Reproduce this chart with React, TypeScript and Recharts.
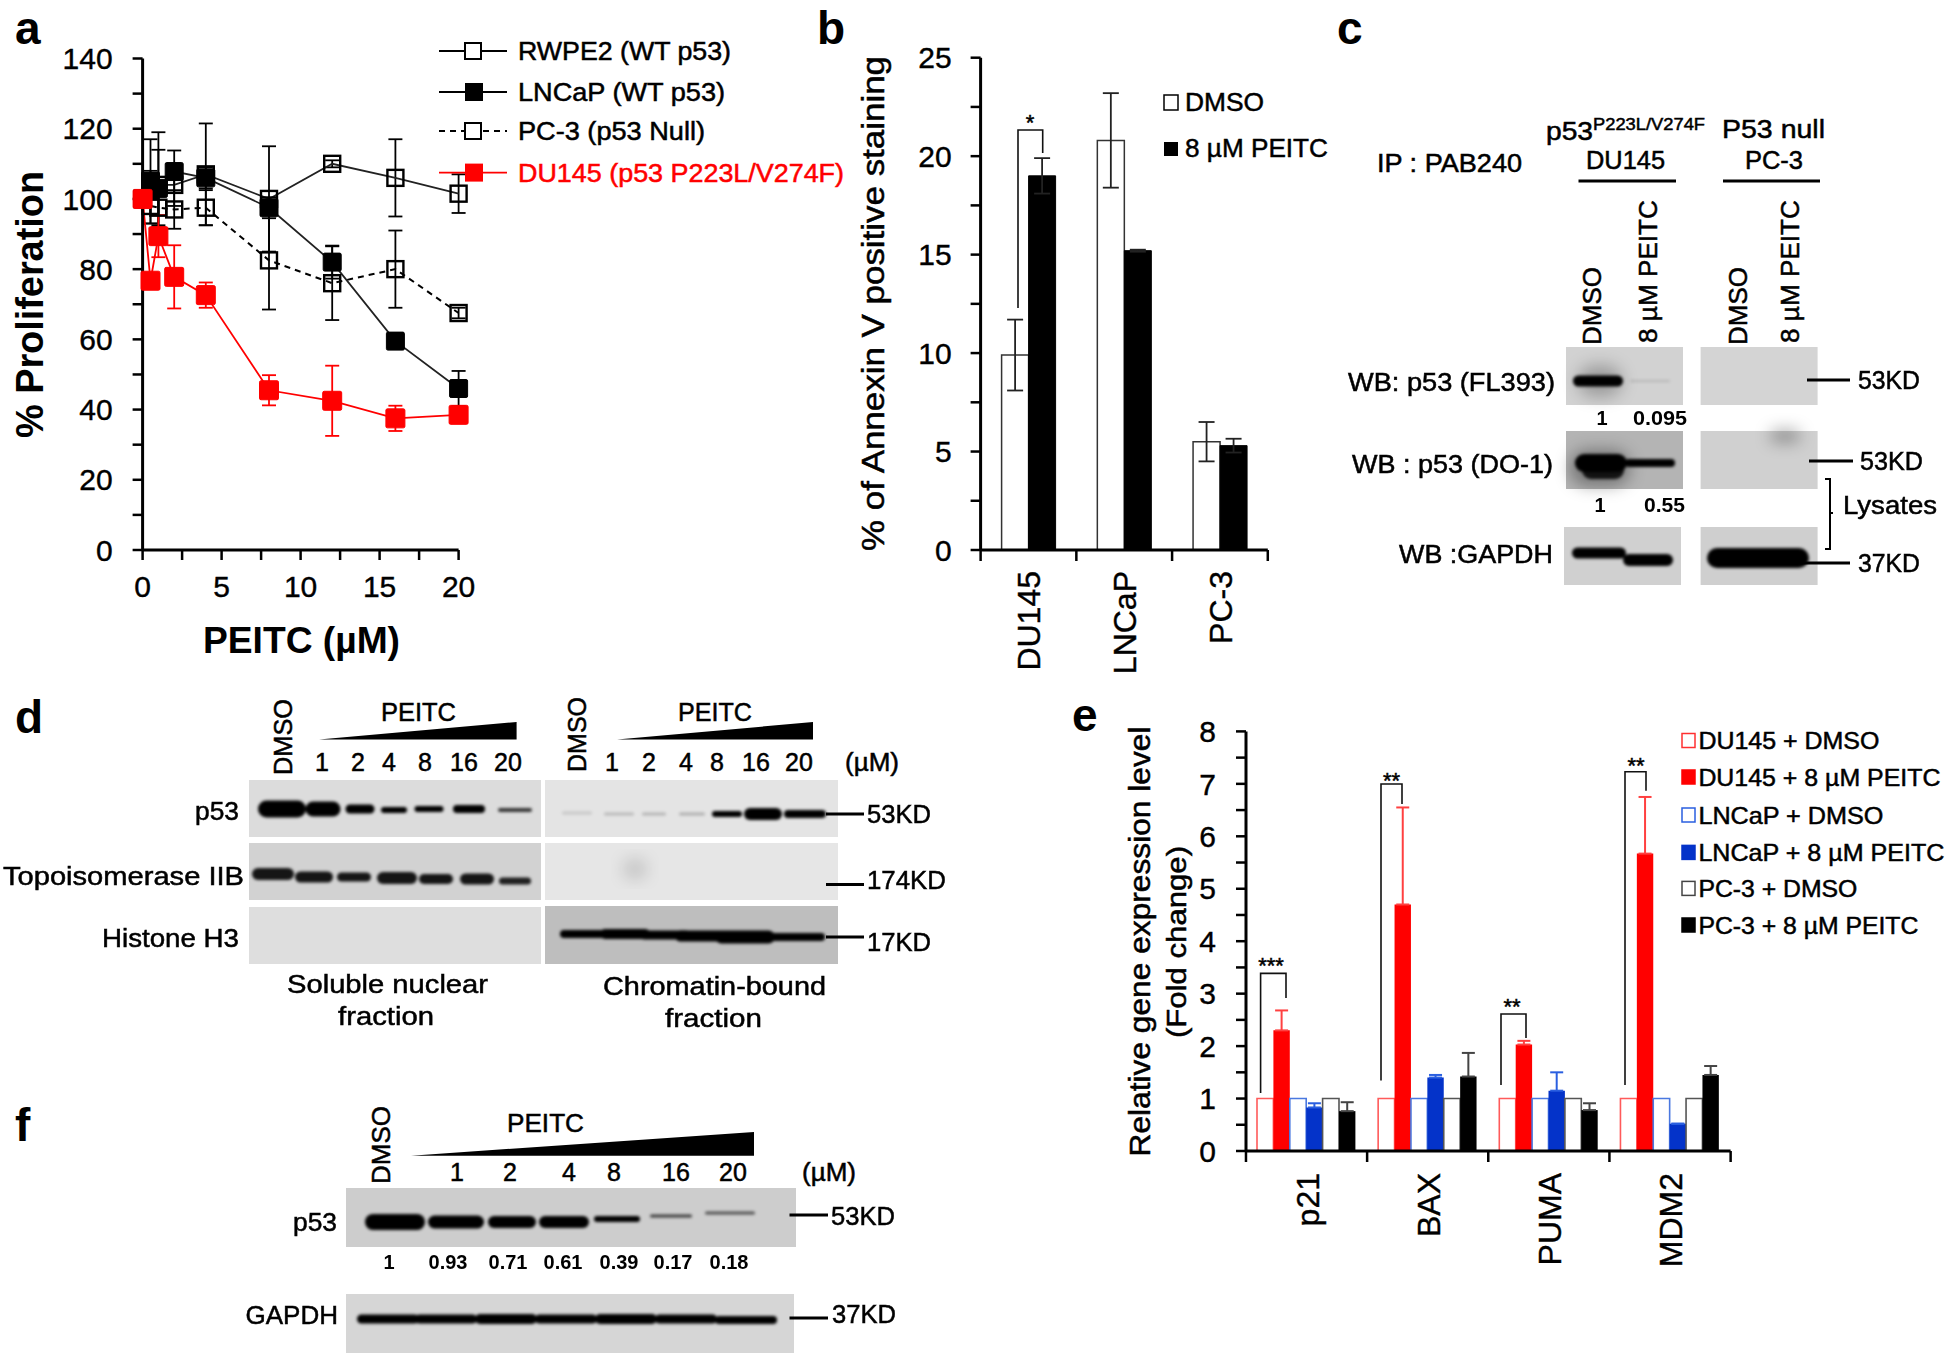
import React from 'react';
import { ComposedChart, BarChart, Bar, Line, XAxis, YAxis, ErrorBar, Legend } from 'recharts';

// ---------- panel a ----------
const doses = [0, 0.5, 1, 2, 4, 8, 12, 16, 20];
const rwpe = [100, 105, 104, 104, 107, 100, 110, 106, 101.5];
const rwpeErr = [0, 12, 15, 6, 14.5, 15, 1, 11, 5.5];
const lncap = [100, 105, 103, 107.8, 106, 97.5, 82, 59.5, 46];
const lncapErr = [0, 3, 11, 6, 3, 3, 4.7, 2, 5];
const pc3 = [100, 98, 97.5, 97, 97.5, 82.5, 76, 80, 67.5];
const pc3Err = [0, 5, 5, 5.5, 5, 14, 10.5, 11, 1.5];
const du145 = [100, 76.7, 89.4, 77.8, 72.6, 45.5, 42.5, 37.5, 38.5];
const du145Err = [0, 2, 6, 9, 3.6, 4.3, 10, 3.6, 2];
const aSeriesNames = ['RWPE2 (WT p53)', 'LNCaP (WT p53)', 'PC-3 (p53 Null)', 'DU145 (p53 P223L/V274F)'];
const aXTicks = [0, 2.5, 5, 7.5, 10, 12.5, 15, 17.5, 20];
const aYTicks = [0, 10, 20, 30, 40, 50, 60, 70, 80, 90, 100, 110, 120, 130, 140];

// ---------- panel b ----------
const bCategories = ['DU145', 'LNCaP', 'PC-3'];
const bDmso = [9.9, 20.8, 5.5];
const bDmsoErr = [1.8, 2.4, 1];
const bPeitc = [19, 15.2, 5.3];
const bPeitcErr = [0.9, 0.05, 0.35];
const bYTicks = [0, 2.5, 5, 7.5, 10, 12.5, 15, 17.5, 20, 22.5, 25];
const bSeriesNames = ['DMSO', '8 µM PEITC'];

// ---------- panel e ----------
const eCategories = ['p21', 'BAX', 'PUMA', 'MDM2'];
const eDuDmso = [1, 1, 1, 1];
const eDuPeitc = [2.3, 4.7, 2.03, 5.67];
const eDuPeitcErr = [0.38, 1.85, 0.07, 1.08];
const eLnDmso = [1, 1, 1, 1];
const eLnPeitc = [0.83, 1.4, 1.15, 0.52];
const eLnPeitcErr = [0.08, 0.05, 0.35, 0];
const ePcDmso = [1, 1, 1, 1];
const ePcPeitc = [0.76, 1.42, 0.78, 1.45];
const ePcPeitcErr = [0.17, 0.45, 0.13, 0.17];
const eSeriesNames = ['DU145 + DMSO', 'DU145 + 8 µM PEITC', 'LNCaP + DMSO', 'LNCaP + 8 µM PEITC', 'PC-3 + DMSO', 'PC-3 + 8 µM PEITC'];
const eYTicks = [0, 0.5, 1, 1.5, 2, 2.5, 3, 3.5, 4, 4.5, 5, 5.5, 6, 6.5, 7, 7.5, 8];

// ---------- blot lane labels ----------
const doseLabels = ['1', '2', '4', '8', '16', '20'];
const fRatios = ['1', '0.93', '0.71', '0.61', '0.39', '0.17', '0.18'];

const aRows = doses.map((d, i) => ({
  dose: d,
  rwpe: rwpe[i], rwpeErr: rwpeErr[i],
  lncap: lncap[i], lncapErr: lncapErr[i],
  pc3: pc3[i], pc3Err: pc3Err[i],
  du145: du145[i], du145Err: du145Err[i],
}));
const bRows = bCategories.map((c, i) => ({
  cat: c, dmso: bDmso[i], dmsoErr: bDmsoErr[i], peitc: bPeitc[i], peitcErr: bPeitcErr[i],
}));
const eRows = eCategories.map((c, i) => ({
  cat: c,
  duD: eDuDmso[i], duP: eDuPeitc[i], duE: [0, eDuPeitcErr[i]],
  lnD: eLnDmso[i], lnP: eLnPeitc[i], lnE: [0, eLnPeitcErr[i]],
  pcD: ePcDmso[i], pcP: ePcPeitc[i], pcE: [0, ePcPeitcErr[i]],
}));

const FONT = '"Liberation Sans", Arial, sans-serif';
const RED = '#ff0000';
const BLUE = '#0433c9';
const tickStyle = { fontSize: 30, fontFamily: FONT, fill: '#000', stroke: '#000', strokeWidth: 0.4 };

function T({ x, y, w, s = 24, a = 'start', b = false, c = '#000', rot = false, children }: any) {
  return (
    <text
      x={x}
      y={y}
      fontFamily={FONT}
      fontSize={s}
      fontWeight={b ? 700 : 400}
      fill={c}
      stroke={c}
      strokeWidth={b ? 0 : 0.5}
      textAnchor={a}
      dominantBaseline="central"
      textLength={w}
      lengthAdjust="spacingAndGlyphs"
      transform={rot ? `rotate(-90 ${x} ${y})` : undefined}
    >
      {children}
    </text>
  );
}

function openDot(color: string, size: number) {
  return (p: any) => (
    <rect key={p.index} x={p.cx - size / 2} y={p.cy - size / 2} width={size} height={size} fill="none" stroke={color} strokeWidth={2.4} />
  );
}
function solidDot(color: string, size: number) {
  return (p: any) => (
    <rect key={p.index} x={p.cx - size / 2} y={p.cy - size / 2} width={size} height={size} rx={1.5} fill={color} stroke={color} strokeWidth={1} />
  );
}

function catTick(bw: number, count: number, lift: number, fs: number) {
  return (p: any) => (
    <g key={p.index}>
      <line x1={p.x - bw / 2} x2={p.x - bw / 2} y1={p.y} y2={p.y + 11} stroke="#000" strokeWidth={2.5} />
      {p.index === count - 1 && (
        <line x1={p.x + bw / 2} x2={p.x + bw / 2} y1={p.y} y2={p.y + 11} stroke="#000" strokeWidth={2.5} />
      )}
      <text
        transform={`translate(${p.x + 1},${p.y + lift}) rotate(-90)`}
        textAnchor="end"
        dominantBaseline="central"
        fontFamily={FONT}
        fontSize={fs}
        fill="#000"
        stroke="#000"
        strokeWidth={0.4}
      >
        {p.payload.value}
      </text>
    </g>
  );
}

function PanelA() {
  const legendY = [51, 92, 131, 172.6];
  const widths = [213, 207, 187, 326];
  const legend = () => (
    <svg width={860} height={680} style={{ display: 'block', pointerEvents: 'none' }}>
      {aSeriesNames.map((n, i) => {
        const col = i === 3 ? RED : '#000';
        const y = legendY[i];
        return (
          <g key={n}>
            <line x1={439} x2={507} y1={y} y2={y} stroke={col} strokeWidth={1.8} strokeDasharray={i === 2 ? '6 5' : undefined} />
            {i === 0 || i === 2 ? (
              <rect x={465} y={y - 8} width={16} height={16} fill="#fff" stroke="#000" strokeWidth={2} />
            ) : (
              <rect x={465} y={y - 9} width={18} height={18} fill={col} />
            )}
            <T x={518} y={y} w={widths[i]} s={25} c={col}>{n}</T>
          </g>
        );
      })}
    </svg>
  );
  return (
    <div style={{ position: 'absolute', left: 0, top: 0 }}>
      <ComposedChart width={860} height={680} data={aRows} margin={{ top: 58.5, right: 401.4, bottom: 70, left: 0 }}>
        <XAxis dataKey="dose" type="number" domain={[0, 20]} ticks={aXTicks} interval={0}
          tickFormatter={(v: number) => (v % 5 === 0 ? String(v) : '')}
          tick={tickStyle} tickSize={10} tickMargin={16} height={60}
          axisLine={{ stroke: '#000', strokeWidth: 3 }} tickLine={{ stroke: '#000', strokeWidth: 2.5 }} />
        <YAxis type="number" domain={[0, 140]} ticks={aYTicks} interval={0} width={142.6}
          tickFormatter={(v: number) => (v % 20 === 0 ? String(v) : '')}
          tick={tickStyle} tickSize={10} tickMargin={20}
          axisLine={{ stroke: '#000', strokeWidth: 3 }} tickLine={{ stroke: '#000', strokeWidth: 2.5 }} />
        <Legend content={legend} align="center" verticalAlign="middle" layout="horizontal"
          wrapperStyle={{ left: 0, top: 0, width: 860, height: 680, pointerEvents: 'none' }} />
        <Line dataKey="rwpe" name={aSeriesNames[0]} stroke="#222" strokeWidth={1.8} isAnimationActive={false} dot={openDot('#000', 16)} legendType="none">
          <ErrorBar dataKey="rwpeErr" width={7} stroke="#000" strokeWidth={1.8} isAnimationActive={false} />
        </Line>
        <Line dataKey="pc3" name={aSeriesNames[2]} stroke="#000" strokeWidth={2} strokeDasharray="6 5" isAnimationActive={false} dot={openDot('#000', 16)} legendType="none">
          <ErrorBar dataKey="pc3Err" width={7} stroke="#000" strokeWidth={1.8} isAnimationActive={false} />
        </Line>
        <Line dataKey="lncap" name={aSeriesNames[1]} stroke="#222" strokeWidth={1.8} isAnimationActive={false} dot={solidDot('#000', 18)} legendType="none">
          <ErrorBar dataKey="lncapErr" width={7} stroke="#000" strokeWidth={1.8} isAnimationActive={false} />
        </Line>
        <Line dataKey="du145" name={aSeriesNames[3]} stroke={RED} strokeWidth={1.8} isAnimationActive={false} dot={solidDot(RED, 19)} legendType="none">
          <ErrorBar dataKey="du145Err" width={7} stroke={RED} strokeWidth={1.8} isAnimationActive={false} />
        </Line>
      </ComposedChart>
    </div>
  );
}

function PanelB() {
  const ox = 860;
  const legend = () => (
    <svg width={480} height={680} style={{ display: 'block', pointerEvents: 'none' }}>
      <rect x={1164 - ox} y={95} width={14} height={15} fill="#fff" stroke="#000" strokeWidth={1.5} />
      <T x={1185 - ox} y={102} w={79} s={26}>{bSeriesNames[0]}</T>
      <rect x={1164 - ox} y={142} width={14} height={14} fill="#000" />
      <T x={1185 - ox} y={148} w={143} s={26}>{bSeriesNames[1]}</T>
    </svg>
  );
  return (
    <div style={{ position: 'absolute', left: ox, top: 0 }}>
      <BarChart width={480} height={680} data={bRows} barSize={27} barGap={0} margin={{ top: 57.7, right: 72.2, bottom: 30, left: 0 }}>
        <XAxis dataKey="cat" interval={0} height={100} tickSize={0} tickMargin={0} tickLine={false}
          tick={catTick(95.7, 3, 21, 32)} axisLine={{ stroke: '#000', strokeWidth: 3 }} />
        <YAxis type="number" domain={[0, 25]} ticks={bYTicks} interval={0} width={120.6}
          tickFormatter={(v: number) => (v % 5 === 0 ? String(v) : '')}
          tick={tickStyle} tickSize={10} tickMargin={19}
          axisLine={{ stroke: '#000', strokeWidth: 3 }} tickLine={{ stroke: '#000', strokeWidth: 2.5 }} />
        <Legend content={legend} align="center" verticalAlign="middle" layout="horizontal"
          wrapperStyle={{ left: 0, top: 0, width: 480, height: 680, pointerEvents: 'none' }} />
        <Bar dataKey="dmso" name={bSeriesNames[0]} fill="#fff" stroke="#333" strokeWidth={1.5} isAnimationActive={false}>
          <ErrorBar dataKey="dmsoErr" width={8} stroke="#222" strokeWidth={1.8} isAnimationActive={false} />
        </Bar>
        <Bar dataKey="peitc" name={bSeriesNames[1]} fill="#000" stroke="#000" isAnimationActive={false}>
          <ErrorBar dataKey="peitcErr" width={8} stroke="#222" strokeWidth={1.8} isAnimationActive={false} />
        </Bar>
      </BarChart>
    </div>
  );
}

function PanelE() {
  const ox = 1060;
  const oy = 680;
  const legendY = [740.5, 777, 815, 852.4, 888.4, 925];
  const widths = [181, 242, 185, 246, 159, 220];
  const cols = ['#ff3030', RED, '#2a5fe0', BLUE, '#444', '#000'];
  const legend = () => (
    <svg width={886} height={650} style={{ display: 'block', pointerEvents: 'none' }}>
      {eSeriesNames.map((n, i) => {
        const y = legendY[i] - oy;
        const filled = i % 2 === 1;
        return (
          <g key={n}>
            <rect x={1682 - ox} y={y - 7} width={13} height={14} fill={filled ? cols[i] : '#fff'} stroke={cols[i]} strokeWidth={1.5} />
            <T x={1698.4 - ox} y={y} w={widths[i]} s={24}>{n}</T>
          </g>
        );
      })}
    </svg>
  );
  const open = (color: string) => ({ fill: '#fff', stroke: color, strokeWidth: 1.6 });
  return (
    <div style={{ position: 'absolute', left: ox, top: oy }}>
      <BarChart width={886} height={650} data={eRows} barSize={16.4} barGap={0} margin={{ top: 51.4, right: 215.4, bottom: 79, left: 0 }}>
        <XAxis dataKey="cat" interval={0} height={100} tickSize={0} tickMargin={0} tickLine={false}
          tick={catTick(121.2, 4, 22, 32)} axisLine={{ stroke: '#000', strokeWidth: 3 }} />
        <YAxis type="number" domain={[0, 8]} ticks={eYTicks} interval={0} width={186}
          tickFormatter={(v: number) => (Number.isInteger(v) ? String(v) : '')}
          tick={tickStyle} tickSize={10} tickMargin={20}
          axisLine={{ stroke: '#000', strokeWidth: 3 }} tickLine={{ stroke: '#000', strokeWidth: 2.5 }} />
        <Legend content={legend} align="center" verticalAlign="middle" layout="horizontal"
          wrapperStyle={{ left: 0, top: 0, width: 886, height: 650, pointerEvents: 'none' }} />
        <Bar dataKey="duD" name={eSeriesNames[0]} {...open('#ff5a5a')} isAnimationActive={false} />
        <Bar dataKey="duP" name={eSeriesNames[1]} fill={RED} isAnimationActive={false}>
          <ErrorBar dataKey="duE" width={6.5} stroke="#ff4040" strokeWidth={2} isAnimationActive={false} />
        </Bar>
        <Bar dataKey="lnD" name={eSeriesNames[2]} {...open('#4a78e0')} isAnimationActive={false} />
        <Bar dataKey="lnP" name={eSeriesNames[3]} fill={BLUE} isAnimationActive={false}>
          <ErrorBar dataKey="lnE" width={6.5} stroke="#2a5fe0" strokeWidth={2} isAnimationActive={false} />
        </Bar>
        <Bar dataKey="pcD" name={eSeriesNames[4]} {...open('#555')} isAnimationActive={false} />
        <Bar dataKey="pcP" name={eSeriesNames[5]} fill="#000" isAnimationActive={false}>
          <ErrorBar dataKey="pcE" width={6.5} stroke="#444" strokeWidth={2} isAnimationActive={false} />
        </Bar>
      </BarChart>
    </div>
  );
}

function Band({ cx, cy, w, h, o = 1, c = '#050505' }: any) {
  return <rect x={cx - w / 2} y={cy - h / 2} width={w} height={h} rx={h / 2} fill={c} opacity={o} />;
}
function Bracket({ l, r, top, lb, rb }: any) {
  return (
    <path d={`M${l} ${lb} L${l} ${top} L${r} ${top} L${r} ${rb}`} fill="none" stroke="#111" strokeWidth={1.6} />
  );
}
function Tick({ x1, x2, y }: any) {
  return <line x1={x1} x2={x2} y1={y} y2={y} stroke="#000" strokeWidth={3} />;
}

function Overlay() {
  const cpanelRot = [
    { x: 1592, text: 'DMSO', y: 345, w: 78 },
    { x: 1648, text: '8 µM PEITC', y: 343, w: 143 },
    { x: 1738, text: 'DMSO', y: 345, w: 78 },
    { x: 1790, text: '8 µM PEITC', y: 343, w: 143 },
  ];
  const dLeftX = [322, 358, 389, 425, 464, 508];
  const dRightX = [612, 649, 686, 717, 756, 799];
  const fX = [457, 510, 569, 614, 676, 733];
  const fRatioX = [389, 448, 508, 563, 619, 673, 729];
  return (
    <svg width={1946} height={1355} style={{ position: 'absolute', left: 0, top: 0, pointerEvents: 'none' }}>
      <defs>
        <filter id="blur" x="-30%" y="-80%" width="160%" height="260%"><feGaussianBlur stdDeviation="1.6" /></filter>
        <filter id="soft" x="-50%" y="-50%" width="200%" height="200%"><feGaussianBlur stdDeviation="8" /></filter>
      </defs>

      {/* panel letters */}
      <T x={15} y={28} s={46} b>a</T>
      <T x={817} y={28} s={46} b>b</T>
      <T x={1337} y={28} s={46} b>c</T>
      <T x={15} y={717} s={46} b>d</T>
      <T x={1072} y={715} s={46} b>e</T>
      <T x={15} y={1125} s={46} b>f</T>

      {/* axis titles */}
      <T x={30} y={438} w={267} s={38} b rot>% Proliferation</T>
      <T x={203} y={640} w={197} s={36} b>PEITC (µM)</T>
      <T x={873} y={551} w={495} s={31} rot>% of Annexin V positive staining</T>
      <T x={1139} y={1156.5} w={430} s={30} rot>Relative gene expression level</T>
      <T x={1176} y={1038} w={192} s={28} rot>(Fold change)</T>

      {/* significance marks */}
      <Bracket l={1018} r={1042.7} top={130} lb={308} rb={153} />
      <T x={1030} y={122} s={22} a="middle">*</T>
      <Bracket l={1260.6} r={1286} top={973.4} lb={1093} rb={998} />
      <T x={1271} y={965} s={22} a="middle">***</T>
      <Bracket l={1381} r={1402} top={784} lb={1080.5} rb={804} />
      <T x={1391.6} y={780} s={22} a="middle">**</T>
      <Bracket l={1501} r={1526} top={1014} lb={1085} rb={1038} />
      <T x={1512} y={1006} s={22} a="middle">**</T>
      <Bracket l={1625} r={1646} top={771.7} lb={1085} rb={790.7} />
      <T x={1636} y={765} s={22} a="middle">**</T>

      {/* panel c */}
      <T x={1377} y={163} w={145} s={25}>IP : PAB240</T>
      <T x={1546} y={131} w={47} s={25}>p53</T>
      <T x={1593} y={124} w={112} s={17}>P223L/V274F</T>
      <T x={1722} y={129} w={103} s={26}>P53 null</T>
      <T x={1586} y={160} w={79} s={25}>DU145</T>
      <T x={1745} y={160} w={58} s={25}>PC-3</T>
      <Tick x1={1578.5} x2={1676} y={181} />
      <Tick x1={1723} x2={1820} y={181} />
      {cpanelRot.map((r, i) => (
        <T key={i} x={r.x} y={r.y} w={r.w} s={26} rot>{r.text}</T>
      ))}
      <rect x={1566} y={347} width={117} height={58} fill="#d2d2d2" />
      <rect x={1700.6} y={347} width={117} height={58} fill="#d4d4d4" />
      <rect x={1566} y={431} width={117} height={58} fill="#b4b4b4" />
      <rect x={1700.6} y={431} width={117} height={58} fill="#d0d0d0" />
      <rect x={1564} y={527} width={117} height={58} fill="#d0d0d0" />
      <rect x={1700.6} y={527} width={117} height={58} fill="#cfcfcf" />
      <g filter="url(#soft)">
        <Band cx={1600} cy={381} w={44} h={32} o={0.25} />
        <Band cx={1600} cy={468} w={60} h={36} o={0.35} />
        <Band cx={1785} cy={436} w={30} h={12} o={0.35} />
      </g>
      <g filter="url(#blur)">
        <Band cx={1598} cy={381} w={50} h={11} />
        <Band cx={1650} cy={381} w={40} h={2} o={0.12} />
        <Band cx={1601} cy={463} w={52} h={18} />
        <Band cx={1603} cy={470} w={42} h={18} o={0.85} />
        <Band cx={1650} cy={463} w={50} h={8} />
        <Band cx={1599} cy={553} w={54} h={11} />
        <Band cx={1648} cy={560} w={50} h={12} />
        <Band cx={1758} cy={558} w={102} h={20} />
      </g>
      <T x={1348} y={381.6} w={207} s={25}>WB: p53 (FL393)</T>
      <T x={1352} y={464} w={201} s={25}>WB : p53 (DO-1)</T>
      <T x={1399} y={554} w={154} s={25}>WB :GAPDH</T>
      <T x={1602} y={417.6} s={20} a="middle" b>1</T>
      <T x={1633} y={417.6} w={54} s={20} b>0.095</T>
      <T x={1600} y={505} s={20} a="middle" b>1</T>
      <T x={1644} y={505} w={41} s={20} b>0.55</T>
      <Tick x1={1807} x2={1850} y={380} />
      <T x={1858} y={380} w={62} s={25}>53KD</T>
      <Tick x1={1809} x2={1853} y={461} />
      <T x={1860} y={461} w={63} s={25}>53KD</T>
      <Tick x1={1800} x2={1850} y={563} />
      <T x={1858} y={563} w={62} s={25}>37KD</T>
      <path d="M1825 479 L1830 479 L1830 513 L1833 513 L1830 513 L1830 549 L1825 549" fill="none" stroke="#000" strokeWidth={2} />
      <T x={1843} y={505} w={94} s={25}>Lysates</T>

      {/* panel d */}
      <T x={282.5} y={775} w={76} s={26} rot>DMSO</T>
      <T x={577} y={772} w={75} s={26} rot>DMSO</T>
      <T x={381} y={712} w={75} s={26}>PEITC</T>
      <T x={678} y={712} w={74} s={26}>PEITC</T>
      <polygon points="319,739.5 516.6,722 516.6,739.5" fill="#000" />
      <polygon points="617,739.5 813,722 813,739.5" fill="#000" />
      {doseLabels.map((d, i) => (
        <T key={`dl${i}`} x={dLeftX[i]} y={762} s={25} a="middle">{d}</T>
      ))}
      {doseLabels.map((d, i) => (
        <T key={`dr${i}`} x={dRightX[i]} y={762} s={25} a="middle">{d}</T>
      ))}
      <T x={845} y={762} w={54} s={25}>(µM)</T>
      <rect x={249} y={780} width={292} height={57} fill="#dcdcdc" />
      <rect x={545} y={780} width={293} height={57} fill="#e4e4e4" />
      <rect x={249} y={843} width={292} height={57} fill="#d2d2d2" />
      <rect x={545} y={843} width={293} height={57} fill="#e6e6e6" />
      <rect x={249} y={907} width={292} height={57} fill="#dedede" />
      <rect x={545} y={906} width={293} height={58} fill="#bebebe" />
      <g filter="url(#blur)">
        <Band cx={282} cy={809} w={48} h={17} />
        <Band cx={323} cy={809} w={35} h={15} />
        <Band cx={360} cy={809} w={29} h={9} />
        <Band cx={394} cy={810} w={26} h={6} />
        <Band cx={429} cy={809} w={29} h={6} />
        <Band cx={469} cy={809} w={32} h={8} />
        <Band cx={515} cy={810} w={34} h={4} o={0.75} />
        <Band cx={577} cy={813} w={30} h={3} o={0.12} />
        <Band cx={619} cy={814} w={30} h={3} o={0.18} />
        <Band cx={654} cy={814} w={24} h={3} o={0.2} />
        <Band cx={692} cy={814} w={26} h={3} o={0.22} />
        <Band cx={727} cy={814} w={30} h={6} />
        <Band cx={763} cy={814} w={38} h={12} />
        <Band cx={805} cy={814} w={42} h={8} />
        <Band cx={273} cy={874} w={42} h={12} o={0.9} />
        <Band cx={314} cy={877} w={38} h={11} o={0.9} />
        <Band cx={354} cy={877} w={34} h={9} o={0.9} />
        <Band cx={397} cy={878} w={40} h={12} o={0.9} />
        <Band cx={436} cy={879} w={34} h={10} o={0.9} />
        <Band cx={477} cy={879} w={34} h={11} o={0.9} />
        <Band cx={515} cy={881} w={32} h={7} o={0.85} />
        <Band cx={585} cy={934} w={50} h={8} />
        <Band cx={625} cy={934} w={50} h={10} />
        <Band cx={665} cy={935} w={50} h={9} />
        <Band cx={700} cy={936} w={50} h={11} />
        <Band cx={745} cy={937} w={60} h={13} />
        <Band cx={795} cy={937} w={60} h={8} />
      </g>
      <g filter="url(#soft)">
        <Band cx={635} cy={869} w={24} h={20} o={0.15} />
      </g>
      <T x={239} y={811} w={44} s={26} a="end">p53</T>
      <T x={3} y={876} w={241} s={26}>Topoisomerase IIB</T>
      <T x={102} y={938} w={137} s={26}>Histone H3</T>
      <T x={287} y={983.5} w={201} s={26}>Soluble nuclear</T>
      <T x={338} y={1016} w={96} s={26}>fraction</T>
      <T x={603} y={985.6} w={223} s={26}>Chromatin-bound</T>
      <T x={665} y={1018} w={97} s={26}>fraction</T>
      <Tick x1={826} x2={864} y={814} />
      <T x={867} y={814} w={64} s={26}>53KD</T>
      <Tick x1={826} x2={864} y={884.5} />
      <T x={867} y={880} w={79} s={26}>174KD</T>
      <Tick x1={826} x2={864} y={937} />
      <T x={867} y={942} w={64} s={26}>17KD</T>

      {/* panel f */}
      <T x={381} y={1184} w={78} s={26} rot>DMSO</T>
      <T x={507} y={1123} w={77} s={26}>PEITC</T>
      <polygon points="411,1155.7 754,1132 754,1155.7" fill="#000" />
      {doseLabels.map((d, i) => (
        <T key={`f${i}`} x={fX[i]} y={1172} s={25} a="middle">{d}</T>
      ))}
      <T x={802} y={1172} w={54} s={25}>(µM)</T>
      <rect x={346} y={1188} width={450} height={59} fill="#cdcdcd" />
      <rect x={346} y={1294} width={448} height={59} fill="#d6d6d6" />
      <g filter="url(#blur)">
        <Band cx={395} cy={1222} w={60} h={16} />
        <Band cx={456} cy={1222} w={56} h={13} />
        <Band cx={512} cy={1222} w={48} h={12} />
        <Band cx={564} cy={1222} w={50} h={12} />
        <Band cx={617} cy={1219} w={46} h={6} />
        <Band cx={671} cy={1216} w={42} h={3} o={0.7} />
        <Band cx={730} cy={1213} w={50} h={3} o={0.6} />
        <Band cx={388} cy={1319} w={62} h={9} />
        <Band cx={446} cy={1319} w={62} h={9} />
        <Band cx={506} cy={1319} w={62} h={10} />
        <Band cx={566} cy={1319} w={62} h={9} />
        <Band cx={626} cy={1319} w={62} h={10} />
        <Band cx={686} cy={1319} w={62} h={9} />
        <Band cx={746} cy={1320} w={62} h={8} />
      </g>
      <T x={293} y={1222} w={44} s={26}>p53</T>
      <T x={245.5} y={1315} w={92.5} s={26}>GAPDH</T>
      {fRatios.map((r, i) => (
        <T key={`fr${i}`} x={fRatioX[i]} y={1262} s={20} a="middle" b>{r}</T>
      ))}
      <Tick x1={789.5} x2={828} y={1215} />
      <T x={831} y={1216} w={64} s={26}>53KD</T>
      <Tick x1={789.5} x2={828} y={1318} />
      <T x={832} y={1314} w={64} s={26}>37KD</T>
    </svg>
  );
}

export default function App() {
  return (
    <div style={{ position: 'absolute', left: 0, top: 0, width: 1946, height: 1355, background: '#fff', overflow: 'hidden', fontFamily: FONT }}>
      <PanelA />
      <PanelB />
      <PanelE />
      <Overlay />
    </div>
  );
}
